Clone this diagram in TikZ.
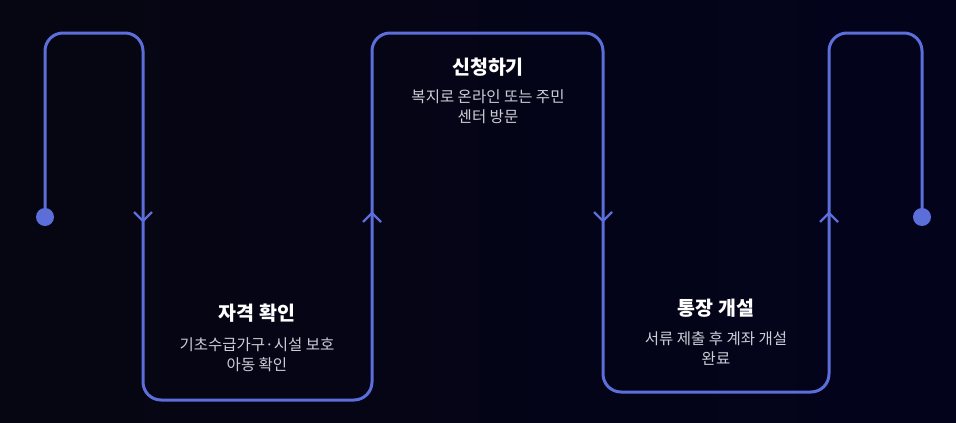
\documentclass[tikz,border=0pt]{standalone}
\usepackage{fontspec}
\setmainfont{Noto Sans CJK KR}
\usetikzlibrary{positioning,calc}
\definecolor{routeblue}{RGB}{92,110,218}
\definecolor{bgleft}{RGB}{6,6,18}
\definecolor{bgright}{RGB}{3,3,28}
\definecolor{notegray}{RGB}{205,205,215}

\begin{document}
\begin{tikzpicture}[x=1pt,y=-1pt,
  route/.style={draw=routeblue, line width=3pt, rounded corners=18pt},
  chevron/.style={draw=routeblue, line width=2.2pt},
  steptitle/.style={font=\bfseries\fontsize{19.5}{22}\selectfont, text=white, align=center},
  stepnote/.style={font=\fontsize{15.5}{20}\selectfont, text=notegray, align=center}]
% dark backdrop, also fixes the page size
\fill[left color=bgleft, right color=bgright] (0,0) rectangle (956,423);
% turning points of the meander
\coordinate (start)  at (45,217);
\coordinate (c1) at (45,33);
\coordinate (c2) at (143,33);
\coordinate (c3) at (143,400);
\coordinate (c4) at (372,400);
\coordinate (c5) at (372,33);
\coordinate (c6) at (603,33);
\coordinate (c7) at (603,392);
\coordinate (c8) at (829,392);
\coordinate (c9) at (829,33);
\coordinate (c10) at (922,33);
\coordinate (finish) at (922,217);
\draw[route] (start) -- (c1) -- (c2) -- (c3) -- (c4) -- (c5) -- (c6)
  -- (c7) -- (c8) -- (c9) -- (c10) -- (finish);
\fill[routeblue] (start) circle (9);
\fill[routeblue] (finish) circle (9);
% direction marks on the verticals
\coordinate (down1) at (143,221);
\coordinate (up1)   at (372,213);
\coordinate (down2) at (603,221);
\coordinate (up2)   at (829,213);
\draw[chevron] ($(down1)+(-9,-9)$) -- (down1) -- ($(down1)+(9,-9)$);
\draw[chevron] ($(down2)+(-9,-9)$) -- (down2) -- ($(down2)+(9,-9)$);
\draw[chevron] ($(up1)+(-9,9)$) -- (up1) -- ($(up1)+(9,9)$);
\draw[chevron] ($(up2)+(-9,9)$) -- (up2) -- ($(up2)+(9,9)$);
% step labels
\node[steptitle] (check)     at (257,313) {자격 확인};
\node[stepnote]  (checknote) at (257,355) {기초수급가구·시설 보호\\아동 확인};
\node[steptitle] (apply)     at (488,67)  {신청하기};
\node[stepnote]  (applynote) at (488,107) {복지로 온라인 또는 주민\\센터 방문};
\node[steptitle] (open)      at (716,308) {통장 개설};
\node[stepnote]  (opennote)  at (716,348) {서류 제출 후 계좌 개설\\완료};
\end{tikzpicture}
\end{document}
